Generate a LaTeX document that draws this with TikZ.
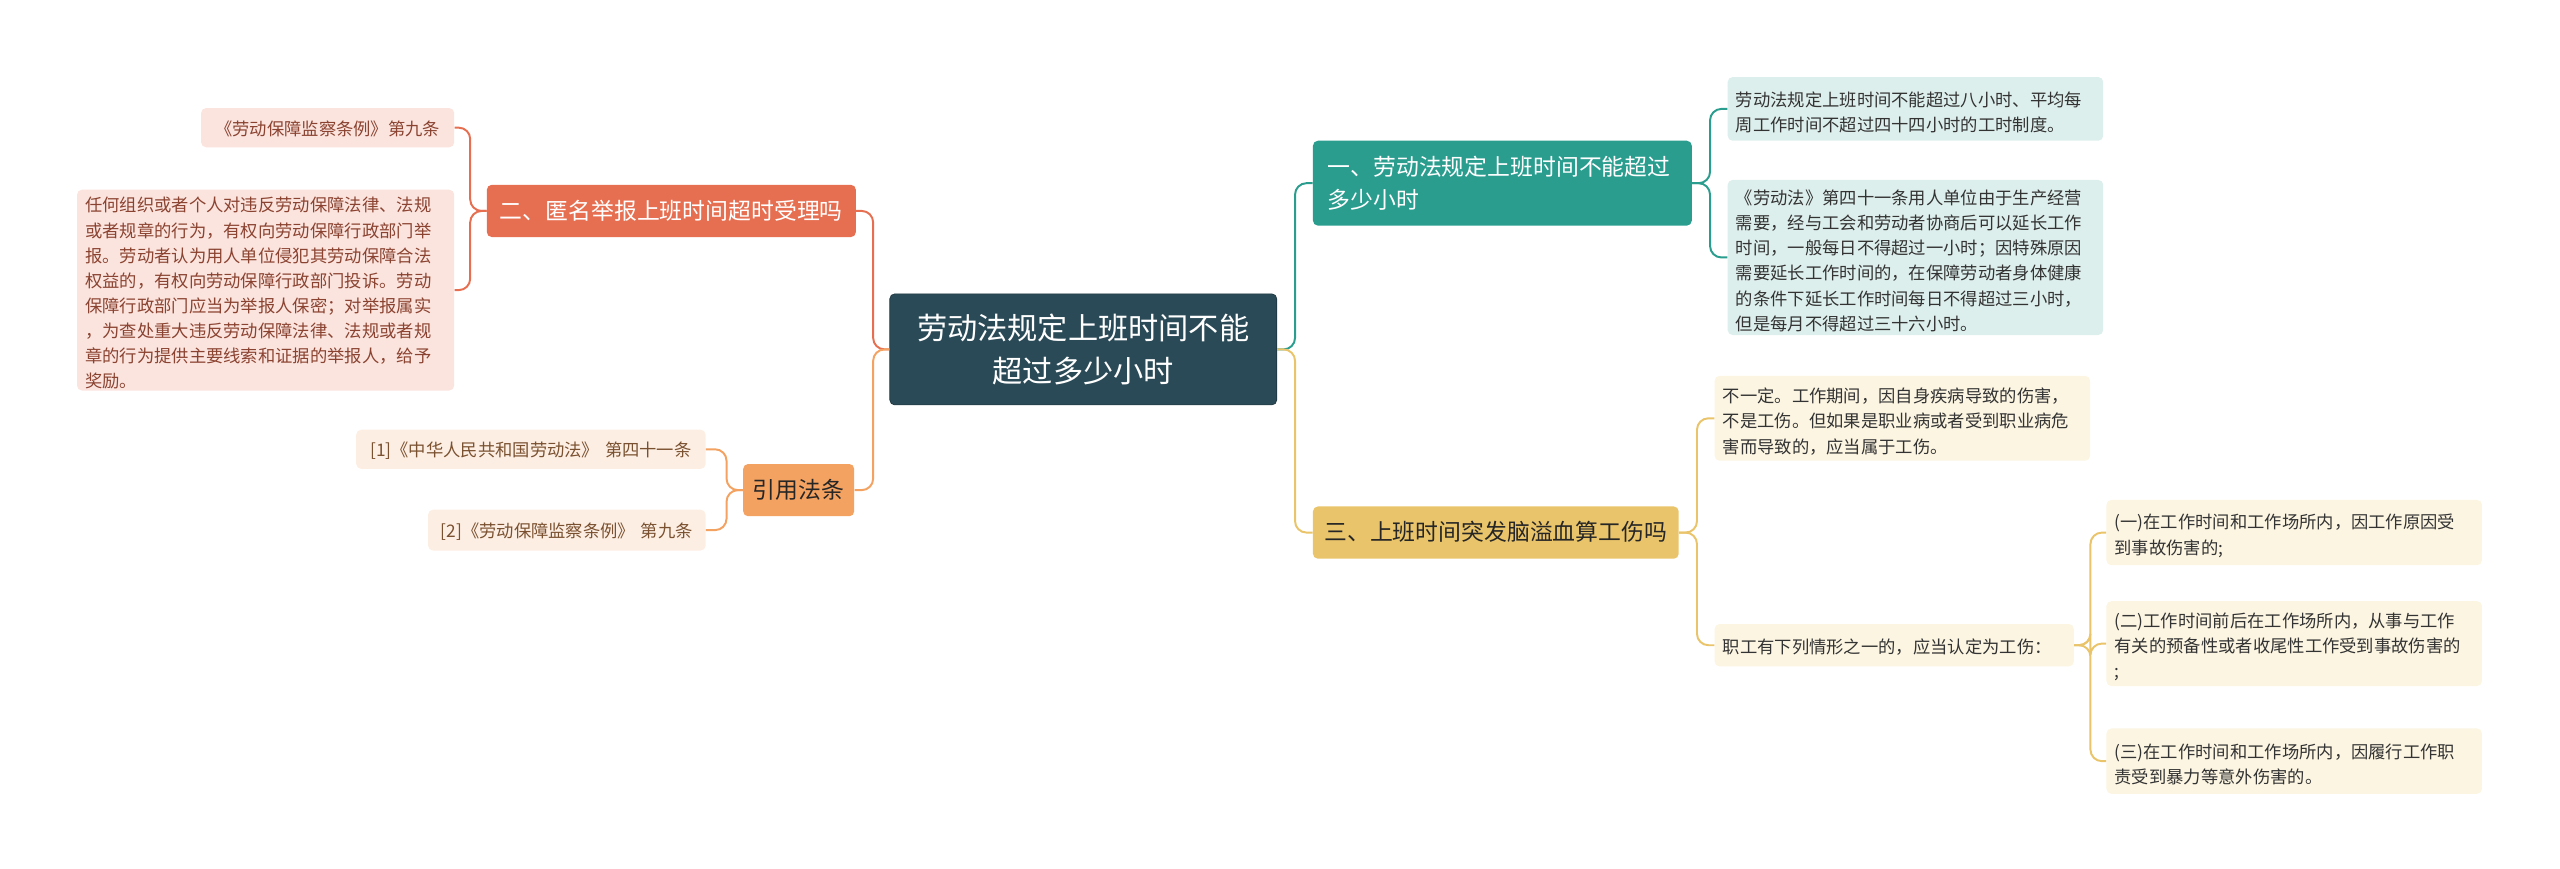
\documentclass[tikz,border=0pt]{standalone}
\usepackage{fontspec}
\setmainfont{Noto Sans CJK SC}
\begin{document}
\begin{tikzpicture}[x=1pt,y=-1pt]
\definecolor{rootc}{HTML}{2A4A57}
\definecolor{teal}{HTML}{2A9D8F}
\definecolor{teall}{HTML}{DDEFEC}
\definecolor{yel}{HTML}{E9C46A}
\definecolor{yell}{HTML}{FCF5E2}
\definecolor{ora}{HTML}{E76F51}
\definecolor{oral}{HTML}{FBE4DE}
\definecolor{pea}{HTML}{F4A261}
\definecolor{peal}{HTML}{FDEEE3}
\tikzset{
 box/.style={rounded corners=3pt, inner sep=0pt, align=left, anchor=north west},
 leaf/.style={box, font=\fontsize{10.6}{15.4}\selectfont, text=black!80},
 mid/.style={box, font=\fontsize{14}{20}\selectfont},
 conn/.style={line width=1.2pt, rounded corners=7pt},
}
\useasboundingbox (0,0) rectangle (1568,532);
% root
\node[box, fill=rootc, draw=rootc!70!black, text=white, align=center, anchor=center, minimum width=237, minimum height=68, font=\fontsize{18.5}{26}\selectfont] (root) at (663.5,214) {劳动法规定上班时间不能\\超过多少小时};
% right branches
\node[mid, fill=teal, text=white, minimum width=232, minimum height=52, text width=222] (b1) at (804,86) {\hspace*{4pt}一、劳动法规定上班时间不能超过\\\hspace*{4pt}多少小时};
\node[mid, fill=yel, text=black!85, minimum width=224, minimum height=32, align=center, text width=224] (b3) at (804,310) {\raisebox{0pt}[20pt][10pt]{}三、上班时间突发脑溢血算工伤吗};
\node[mid, fill=ora, text=white, minimum width=226, minimum height=32, align=center, text width=226] (b2) at (298,113) {\raisebox{0pt}[20pt][10pt]{}二、匿名举报上班时间超时受理吗};
\node[mid, fill=pea, text=black!85, minimum width=68, minimum height=32, align=center, text width=68] (b4) at (455,284) {\raisebox{0pt}[20pt][10pt]{}引用法条};
% teal leaves
\node[leaf, fill=teall, minimum width=230, minimum height=39, text width=230] (t1) at (1058,47) {\hspace*{5pt}\raisebox{0pt}[13pt][0pt]{}劳动法规定上班时间不能超过八小时、平均每\\\hspace*{5pt}周工作时间不超过四十四小时的工时制度。};
\node[leaf, fill=teall, minimum width=230, minimum height=95, text width=230] (t2) at (1058,110) {\hspace*{5pt}\raisebox{0pt}[13pt][0pt]{}《劳动法》第四十一条用人单位由于生产经营\\\hspace*{5pt}需要，经与工会和劳动者协商后可以延长工作\\\hspace*{5pt}时间，一般每日不得超过一小时；因特殊原因\\\hspace*{5pt}需要延长工作时间的，在保障劳动者身体健康\\\hspace*{5pt}的条件下延长工作时间每日不得超过三小时，\\\hspace*{5pt}但是每月不得超过三十六小时。};
% yellow leaves
\node[leaf, fill=yell, minimum width=230, minimum height=52, text width=230] (y1) at (1050,230) {\hspace*{5pt}\raisebox{0pt}[13pt][0pt]{}不一定。工作期间，因自身疾病导致的伤害，\\\hspace*{5pt}不是工伤。但如果是职业病或者受到职业病危\\\hspace*{5pt}害而导致的，应当属于工伤。};
\node[leaf, fill=yell, minimum width=220, minimum height=26, text width=220] (y2) at (1050,382) {\hspace*{5pt}\raisebox{0pt}[16pt][6pt]{}职工有下列情形之一的，应当认定为工伤：};
\node[leaf, fill=yell, minimum width=230, minimum height=40, text width=230] (g1) at (1290,306) {\hspace*{5pt}\raisebox{0pt}[13pt][0pt]{}(一)在工作时间和工作场所内，因工作原因受\\\hspace*{5pt}到事故伤害的;};
\node[leaf, fill=yell, minimum width=230, minimum height=52, text width=230] (g2) at (1290,368) {\hspace*{5pt}\raisebox{0pt}[13pt][0pt]{}(二)工作时间前后在工作场所内，从事与工作\\\hspace*{5pt}有关的预备性或者收尾性工作受到事故伤害的\\\hspace*{5pt};};
\node[leaf, fill=yell, minimum width=230, minimum height=40, text width=230] (g3) at (1290,446) {\hspace*{5pt}\raisebox{0pt}[13pt][0pt]{}(三)在工作时间和工作场所内，因履行工作职\\\hspace*{5pt}责受到暴力等意外伤害的。};
% orange leaves
\node[leaf, fill=oral, text=ora!60!black, minimum width=155, minimum height=24, text width=155, align=center] (o1) at (123,66) {\raisebox{0pt}[15pt][6pt]{}《劳动保障监察条例》第九条};
\node[leaf, fill=oral, text=ora!60!black, minimum width=231, minimum height=123, text width=231] (o2) at (47,116) {\hspace*{5pt}\raisebox{0pt}[13pt][0pt]{}任何组织或者个人对违反劳动保障法律、法规\\\hspace*{5pt}或者规章的行为，有权向劳动保障行政部门举\\\hspace*{5pt}报。劳动者认为用人单位侵犯其劳动保障合法\\\hspace*{5pt}权益的，有权向劳动保障行政部门投诉。劳动\\\hspace*{5pt}保障行政部门应当为举报人保密；对举报属实\\\hspace*{5pt}，为查处重大违反劳动保障法律、法规或者规\\\hspace*{5pt}章的行为提供主要线索和证据的举报人，给予\\\hspace*{5pt}奖励。};
% peach leaves
\node[leaf, fill=peal, text=pea!50!black, minimum width=214, minimum height=24, text width=214, align=center] (p1) at (218,263) {\raisebox{0pt}[15pt][6pt]{}[1]《中华人民共和国劳动法》 第四十一条};
\node[leaf, fill=peal, text=pea!50!black, minimum width=170, minimum height=25, text width=170, align=center] (p2) at (262,312) {\raisebox{0pt}[15pt][6pt]{}[2]《劳动保障监察条例》 第九条};
% connectors
\draw[conn, teal] (root.east) -- ++(11,0) |- (b1.west);
\draw[conn, yel] (root.east) -- ++(11,0) |- (b3.west);
\draw[conn, ora] (root.west) -- ++(-10,0) |- (b2.east);
\draw[conn, pea] (root.west) -- ++(-10,0) |- (b4.east);
\draw[conn, teal] (b1.east) -- ++(11,0) |- (t1.west);
\draw[conn, teal] (b1.east) -- ++(11,0) |- (t2.west);
\draw[conn, yel] (b3.east) -- ++(11,0) |- (y1.west);
\draw[conn, yel] (b3.east) -- ++(11,0) |- (y2.west);
\draw[conn, yel] (y2.east) -- ++(10,0) |- (g1.west);
\draw[conn, yel] (y2.east) -- ++(10,0) |- (g2.west);
\draw[conn, yel] (y2.east) -- ++(10,0) |- (g3.west);
\draw[conn, ora] (b2.west) -- ++(-10,0) |- (o1.east);
\draw[conn, ora] (b2.west) -- ++(-10,0) |- (o2.east);
\draw[conn, pea] (b4.west) -- ++(-10,0) |- (p1.east);
\draw[conn, pea] (b4.west) -- ++(-10,0) |- (p2.east);
\end{tikzpicture}
\end{document}
